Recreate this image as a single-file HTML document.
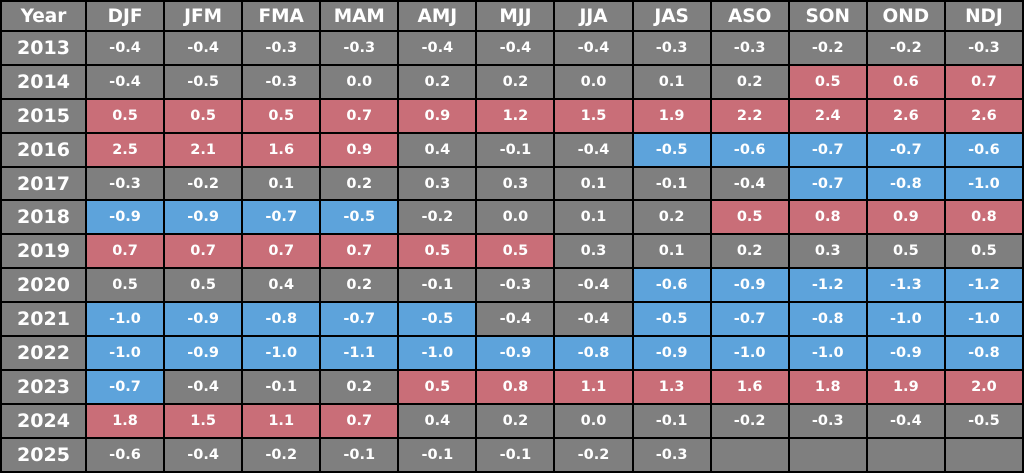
<!DOCTYPE html>
<html><head><meta charset="utf-8"><style>
html,body{margin:0;padding:0;background:#000;}
table{border-collapse:collapse;table-layout:fixed;width:1024px;height:472px;font-family:"DejaVu Sans","Liberation Sans",sans-serif;font-weight:bold;color:#fff;}
td,th{border:2px solid #000;background:#7f7f7f;text-align:center;padding:0;font-size:14.5px;}
th{font-size:18.5px;height:28px;}
td.y{font-size:19px;}
tr.h{height:30px;}
tr{height:33.9px;}
.r{background:#c96e78;}
.b{background:#5da3db;}
col.y{width:85px;}
</style></head><body>
<table>
<colgroup><col class="y"><col><col><col><col><col><col><col><col><col><col><col><col></colgroup>
<tr class="h"><th>Year</th><th>DJF</th><th>JFM</th><th>FMA</th><th>MAM</th><th>AMJ</th><th>MJJ</th><th>JJA</th><th>JAS</th><th>ASO</th><th>SON</th><th>OND</th><th>NDJ</th></tr>
<tr><td class="y">2013</td><td>-0.4</td><td>-0.4</td><td>-0.3</td><td>-0.3</td><td>-0.4</td><td>-0.4</td><td>-0.4</td><td>-0.3</td><td>-0.3</td><td>-0.2</td><td>-0.2</td><td>-0.3</td></tr>
<tr><td class="y">2014</td><td>-0.4</td><td>-0.5</td><td>-0.3</td><td>0.0</td><td>0.2</td><td>0.2</td><td>0.0</td><td>0.1</td><td>0.2</td><td class="r">0.5</td><td class="r">0.6</td><td class="r">0.7</td></tr>
<tr><td class="y">2015</td><td class="r">0.5</td><td class="r">0.5</td><td class="r">0.5</td><td class="r">0.7</td><td class="r">0.9</td><td class="r">1.2</td><td class="r">1.5</td><td class="r">1.9</td><td class="r">2.2</td><td class="r">2.4</td><td class="r">2.6</td><td class="r">2.6</td></tr>
<tr><td class="y">2016</td><td class="r">2.5</td><td class="r">2.1</td><td class="r">1.6</td><td class="r">0.9</td><td>0.4</td><td>-0.1</td><td>-0.4</td><td class="b">-0.5</td><td class="b">-0.6</td><td class="b">-0.7</td><td class="b">-0.7</td><td class="b">-0.6</td></tr>
<tr><td class="y">2017</td><td>-0.3</td><td>-0.2</td><td>0.1</td><td>0.2</td><td>0.3</td><td>0.3</td><td>0.1</td><td>-0.1</td><td>-0.4</td><td class="b">-0.7</td><td class="b">-0.8</td><td class="b">-1.0</td></tr>
<tr><td class="y">2018</td><td class="b">-0.9</td><td class="b">-0.9</td><td class="b">-0.7</td><td class="b">-0.5</td><td>-0.2</td><td>0.0</td><td>0.1</td><td>0.2</td><td class="r">0.5</td><td class="r">0.8</td><td class="r">0.9</td><td class="r">0.8</td></tr>
<tr><td class="y">2019</td><td class="r">0.7</td><td class="r">0.7</td><td class="r">0.7</td><td class="r">0.7</td><td class="r">0.5</td><td class="r">0.5</td><td>0.3</td><td>0.1</td><td>0.2</td><td>0.3</td><td>0.5</td><td>0.5</td></tr>
<tr><td class="y">2020</td><td>0.5</td><td>0.5</td><td>0.4</td><td>0.2</td><td>-0.1</td><td>-0.3</td><td>-0.4</td><td class="b">-0.6</td><td class="b">-0.9</td><td class="b">-1.2</td><td class="b">-1.3</td><td class="b">-1.2</td></tr>
<tr><td class="y">2021</td><td class="b">-1.0</td><td class="b">-0.9</td><td class="b">-0.8</td><td class="b">-0.7</td><td class="b">-0.5</td><td>-0.4</td><td>-0.4</td><td class="b">-0.5</td><td class="b">-0.7</td><td class="b">-0.8</td><td class="b">-1.0</td><td class="b">-1.0</td></tr>
<tr><td class="y">2022</td><td class="b">-1.0</td><td class="b">-0.9</td><td class="b">-1.0</td><td class="b">-1.1</td><td class="b">-1.0</td><td class="b">-0.9</td><td class="b">-0.8</td><td class="b">-0.9</td><td class="b">-1.0</td><td class="b">-1.0</td><td class="b">-0.9</td><td class="b">-0.8</td></tr>
<tr><td class="y">2023</td><td class="b">-0.7</td><td>-0.4</td><td>-0.1</td><td>0.2</td><td class="r">0.5</td><td class="r">0.8</td><td class="r">1.1</td><td class="r">1.3</td><td class="r">1.6</td><td class="r">1.8</td><td class="r">1.9</td><td class="r">2.0</td></tr>
<tr><td class="y">2024</td><td class="r">1.8</td><td class="r">1.5</td><td class="r">1.1</td><td class="r">0.7</td><td>0.4</td><td>0.2</td><td>0.0</td><td>-0.1</td><td>-0.2</td><td>-0.3</td><td>-0.4</td><td>-0.5</td></tr>
<tr><td class="y">2025</td><td>-0.6</td><td>-0.4</td><td>-0.2</td><td>-0.1</td><td>-0.1</td><td>-0.1</td><td>-0.2</td><td>-0.3</td><td></td><td></td><td></td><td></td></tr>
</table>
</body></html>
